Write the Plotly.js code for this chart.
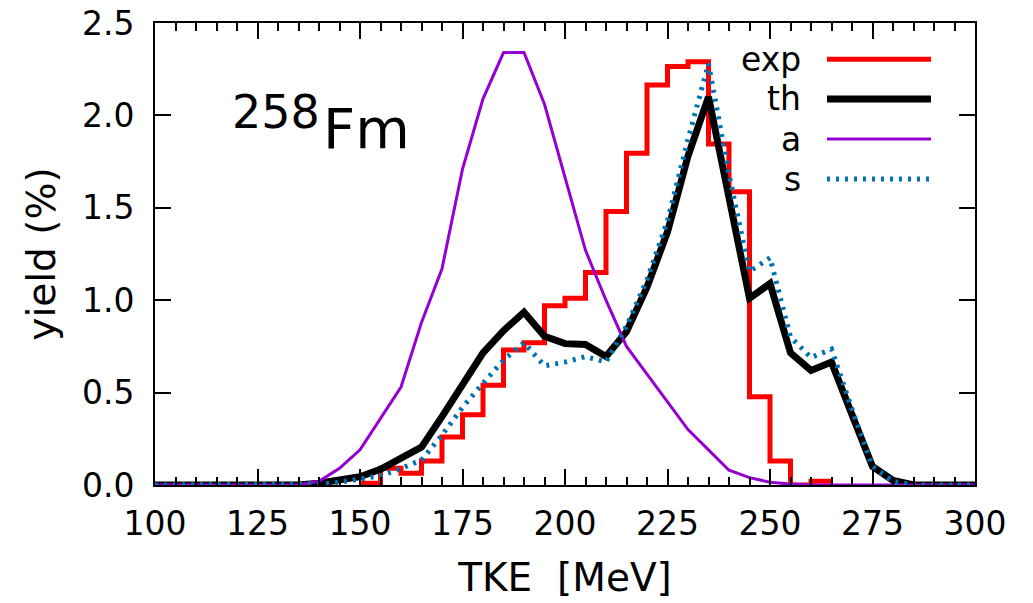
<!DOCTYPE html>
<html>
<head>
<meta charset="utf-8">
<script src="https://cdn.plot.ly/plotly-3.0.1.min.js"></script>
<style>html,body{margin:0;padding:0;background:#fff;}</style>
</head>
<body>
<div id="chart" style="width:1033px;height:603px;"></div>
<script>
// TKE grid of the calculated distributions (MeV)
const tke = [100,105,110,115,120,125,130,135,140,145,150,155,160,165,170,175,180,185,190,195,200,
             205,210,215,220,225,230,235,240,245,250,255,260,265,270,275,280,285,290,295,300];

// theory, total ("th")
const yieldTh = [0,0,0,0,0,0,0,0,0.01,0.025,0.045,0.085,0.14,0.205,0.37,0.54,0.715,0.835,0.935,0.805,0.765,
                 0.76,0.695,0.83,1.07,1.37,1.78,2.10,1.55,1.01,1.09,0.715,0.62,0.665,0.38,0.10,0.025,0,0,0,0];

// asymmetric component ("a")
const yieldA = [0,0,0,0,0,0,0,0,0.02,0.09,0.19,0.36,0.53,0.88,1.17,1.71,2.09,2.34,2.34,2.06,1.67,
                1.27,1.0,0.75,0.60,0.45,0.30,0.19,0.08,0.04,0.015,0.005,0,0,0,0,0,0,0,0,0];

// symmetric component ("s")
const yieldS = [0,0,0,0,0,0,0,0,0.005,0.015,0.03,0.05,0.09,0.135,0.27,0.42,0.55,0.675,0.77,0.645,0.665,
                0.695,0.665,0.86,1.11,1.43,1.87,2.28,1.68,1.155,1.23,0.80,0.69,0.735,0.41,0.10,0.02,0,0,0,0];

// measured histogram: bin edges (MeV) and yield per bin (%)
const expBinEdges = [150,155,160,165,170,175,180,185,190,195,200,205,210,215,220,225,230,235,240,245,250,255,260,265];
const expYield = [0.01,0.09,0.063,0.13,0.26,0.38,0.54,0.73,0.77,0.97,1.01,1.15,1.48,1.795,2.165,2.264,2.29,1.845,1.587,0.478,0.13,0.0,0.02];

const xTickVals = [100,125,150,175,200,225,250,275,300];
const yTickVals = [0,0.5,1.0,1.5,2.0,2.5];
const yTickText = ['0.0','0.5','1.0','1.5','2.0','2.5'];

const seriesNames = ['exp','th','a','s'];
const seriesColors = ['#ff0000','#000000','#9400d3','#0072b2'];
const seriesWidths = [5,7,3,5];
const seriesDash = ['solid','solid','solid','3px,6px'];

const FONT = 'DejaVu Sans, sans-serif';

// step outline: repeat the last bin value at the closing edge
const expStepY = expYield.concat([expYield[expYield.length - 1]]);

const traces = [
  {x: expBinEdges, y: expStepY, mode: 'lines', line: {shape: 'hv', color: seriesColors[0], width: seriesWidths[0]}, name: seriesNames[0]},
  {x: tke, y: yieldTh, mode: 'lines', line: {color: seriesColors[1], width: seriesWidths[1]}, name: seriesNames[1]},
  {x: tke, y: yieldA, mode: 'lines', line: {color: seriesColors[2], width: seriesWidths[2]}, name: seriesNames[2]},
  {x: tke, y: yieldS, mode: 'lines', line: {color: seriesColors[3], width: seriesWidths[3], dash: seriesDash[3]}, name: seriesNames[3]}
];

// key drawn gnuplot-style: label on the left, sample line on the right
const keyRowY = [0.9214, 0.8355, 0.7489, 0.6623];
const keyShapes = seriesNames.map((n, i) => ({
  type: 'line', xref: 'paper', yref: 'paper',
  x0: 0.8195, x1: 0.9463, y0: keyRowY[i], y1: keyRowY[i],
  line: {color: seriesColors[i], width: seriesWidths[i], dash: seriesDash[i]}
}));
const keyLabels = seriesNames.map((n, i) => ({
  xref: 'paper', yref: 'paper', x: 0.7906, y: keyRowY[i],
  xanchor: 'right', yanchor: 'middle', showarrow: false,
  text: n, font: {family: FONT, size: 33, color: '#000'}
}));

const nucleusLabels = [
  {xref: 'paper', yref: 'paper', x: 0.0915, y: 0.808, xanchor: 'left', yanchor: 'middle', showarrow: false,
   text: '258', font: {family: FONT, size: 46, color: '#000'}},
  {xref: 'paper', yref: 'paper', x: 0.2024, y: 0.772, xanchor: 'left', yanchor: 'middle', showarrow: false,
   text: 'Fm', font: {family: FONT, size: 56, color: '#000'}}
];

const layout = {
  width: 1033, height: 603,
  margin: {l: 155, r: 58, t: 23, b: 118},
  paper_bgcolor: '#fff', plot_bgcolor: '#fff',
  showlegend: false,
  font: {family: FONT, size: 33, color: '#000'},
  xaxis: {
    range: [100, 300], tickvals: xTickVals, ticks: 'inside', ticklen: 16, tickwidth: 2, tickcolor: '#000',
    minor: {dtick: 5, ticks: 'inside', ticklen: 8, tickwidth: 2, tickcolor: '#000'},
    showline: true, linecolor: '#000', linewidth: 2, mirror: 'allticks', showgrid: false, zeroline: false,
    tickfont: {family: FONT, size: 33}, ticklabelstandoff: 8,
    title: {text: 'TKE  [MeV]', font: {family: FONT, size: 39}, standoff: 22}
  },
  yaxis: {
    range: [0, 2.5], tickvals: yTickVals, ticktext: yTickText, ticks: 'inside', ticklen: 16, tickwidth: 2, tickcolor: '#000',
    showline: true, linecolor: '#000', linewidth: 2, mirror: 'allticks', showgrid: false, zeroline: false,
    tickfont: {family: FONT, size: 33}, ticklabelstandoff: 12,
    title: {text: 'yield (%)', font: {family: FONT, size: 39}, standoff: 14}
  },
  shapes: keyShapes,
  annotations: keyLabels.concat(nucleusLabels)
};

Plotly.newPlot('chart', traces, layout, {displayModeBar: false, staticPlot: true});
</script>
</body>
</html>
